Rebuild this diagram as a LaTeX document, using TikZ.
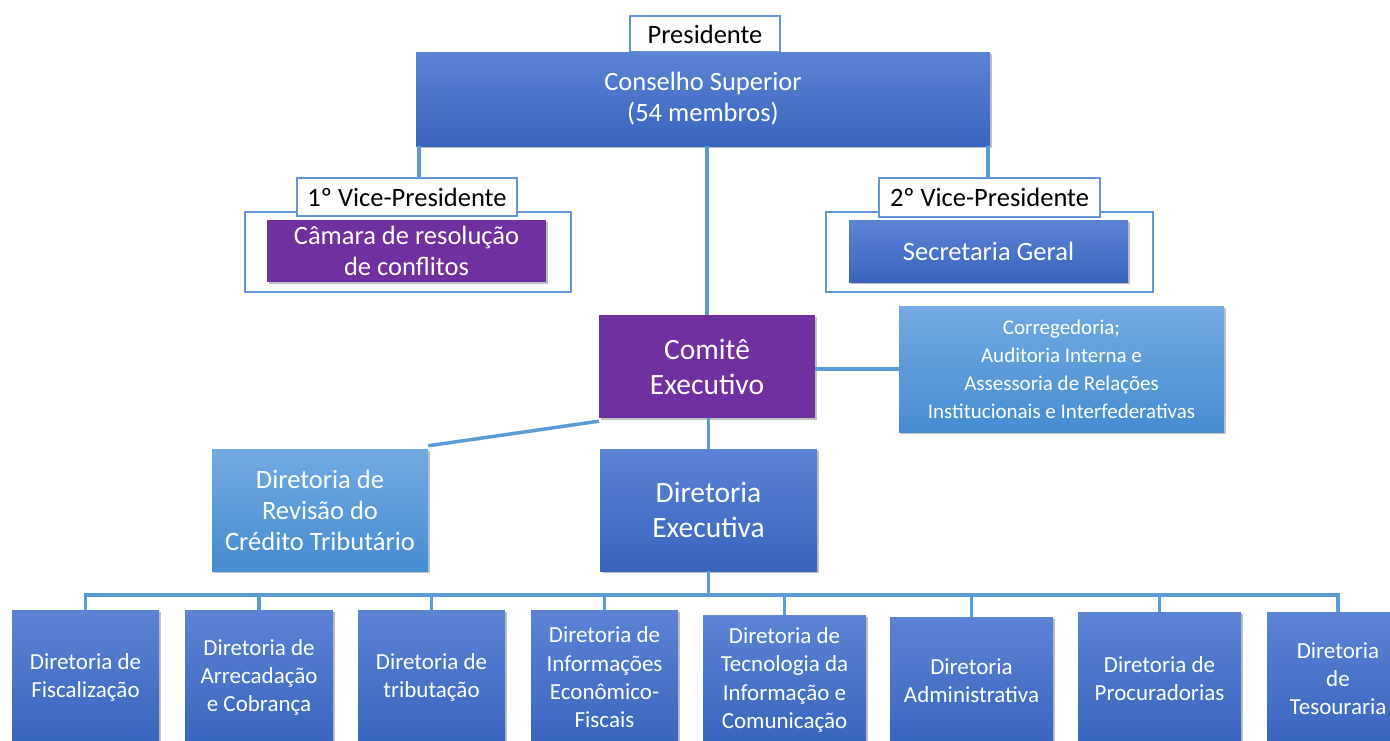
\documentclass[tikz,border=0pt]{standalone}
\usepackage{fontspec}
\setmainfont{Carlito}
\usetikzlibrary{shadows}
\definecolor{lnc}{RGB}{91,155,213}
\definecolor{frc}{RGB}{100,150,215}
\definecolor{btop}{RGB}{92,131,212}
\definecolor{bbot}{RGB}{56,101,190}
\definecolor{ltop}{RGB}{114,170,226}
\definecolor{lbot}{RGB}{70,140,208}
\definecolor{purp}{RGB}{112,48,160}
\tikzset{
  boxbase/.style={inner sep=0pt, align=center, text=white,
    drop shadow={shadow xshift=1.5pt, shadow yshift=-2pt, opacity=0.35, fill=black!70}},
  bluebox/.style={boxbase, top color=btop, bottom color=bbot},
  lbluebox/.style={boxbase, top color=ltop, bottom color=lbot},
  purplebox/.style={boxbase, fill=purp},
  framebox/.style={draw=frc, line width=1.3pt, fill=white, inner sep=0pt},
  labelbox/.style={draw=frc, line width=1.3pt, fill=white, inner sep=0pt, text=black,
    font=\fontsize{26.5}{31}\selectfont},
  fbig/.style={font=\fontsize{26.5}{31}\selectfont},
  fhuge/.style={font=\fontsize{29.5}{35}\selectfont},
  fmid/.style={font=\fontsize{23}{28.3}\selectfont},
  fsmall/.style={font=\fontsize{21}{28}\selectfont},
  conn/.style={draw=lnc, line width=3.5pt}
}
\begin{document}
\begin{tikzpicture}[x=1pt,y=-1pt]
\useasboundingbox (0,0) rectangle (1390,740);
\clip (0,0) rectangle (1390,740);
% top
\node[labelbox, minimum width=150pt, minimum height=36pt] (pres) at (705,34) {Presidente};
\node[bluebox, fbig, minimum width=574pt, minimum height=94pt] (cs) at (703,99) {Conselho Superior\\(54 membros)};
% vice presidents
\node[framebox, minimum width=326pt, minimum height=80pt] (f1) at (408,252) {};
\node[labelbox, minimum width=220pt, minimum height=38pt] (vp1) at (407,197) {1º Vice-Presidente};
\node[purplebox, fbig, minimum width=279pt, minimum height=62pt] (cam) at (406.5,251) {Câmara de resolução\\de conflitos};
\node[framebox, minimum width=327pt, minimum height=80pt] (f2) at (989.5,252) {};
\node[labelbox, minimum width=221pt, minimum height=39pt] (vp2) at (989.5,197.5) {2º Vice-Presidente};
\node[bluebox, fbig, minimum width=279pt, minimum height=62pt] (sec) at (988.5,251) {Secretaria Geral};
% comite
\node[purplebox, fhuge, minimum width=216pt, minimum height=103pt] (ce) at (707,366.5) {Comitê\\Executivo};
\node[lbluebox, fsmall, minimum width=325pt, minimum height=126pt] (cor) at (1061.5,369) {Corregedoria;\\Auditoria Interna e\\Assessoria de Relações\\Institucionais e Interfederativas};
\node[lbluebox, fbig, minimum width=216pt, minimum height=122pt] (rev) at (320,510) {Diretoria de\\Revisão do\\Crédito Tributário};
\node[bluebox, fhuge, minimum width=217pt, minimum height=122pt] (de) at (708.5,510) {Diretoria\\Executiva};
% bottom row
\node[bluebox, fmid, minimum width=147pt, minimum height=135pt] (b1) at (85.5,677.5) {Diretoria de\\Fiscalização};
\node[bluebox, fmid, minimum width=148pt, minimum height=135pt] (b2) at (259,677.5) {Diretoria de\\Arrecadação\\e Cobrança};
\node[bluebox, fmid, minimum width=147pt, minimum height=135pt] (b3) at (431.5,677.5) {Diretoria de\\tributação};
\node[bluebox, fmid, minimum width=147pt, minimum height=135pt] (b4) at (604.5,677.5) {Diretoria de\\Informações\\Econômico-\\Fiscais};
\node[bluebox, fmid, minimum width=163pt, minimum height=130pt] (b5) at (784.5,680) {Diretoria de\\Tecnologia da\\Informação e\\Comunicação};
\node[bluebox, fmid, minimum width=163pt, minimum height=128pt] (b6) at (971.5,681) {Diretoria\\Administrativa};
\node[bluebox, fmid, minimum width=163pt, minimum height=133pt] (b7) at (1159.5,678.5) {Diretoria de\\Procuradorias};
\node[bluebox, fmid, minimum width=142pt, minimum height=133pt] (b8) at (1338,678.5) {Diretoria\\de\\Tesouraria};
% connectors
\coordinate (bus) at (0,595);
\draw[conn] ([xshift=3pt]cs.south west) -- ([xshift=3pt]cs.south west |- vp1.north);
\draw[conn] ([xshift=-2pt]cs.south east) -- ([xshift=-2pt]cs.south east |- vp2.north);
\draw[conn] (ce.north |- cs.south) -- (ce.north);
\draw[conn] (ce.east |- cor.west) -- (cor.west);
\draw[conn] ([yshift=-3pt]ce.south west) -- ([yshift=3pt]rev.north east);
\draw[conn] (de.north |- ce.south) -- (de.north);
\draw[conn] (de.south) -- (de.south |- bus);
\draw[conn, line cap=rect] (b1.north |- bus) -- (b8.north |- bus);
\foreach \b in {b1,b2,b3,b4,b5,b6,b7,b8}{
  \draw[conn] (\b.north |- bus) -- (\b.north);
}
\end{tikzpicture}
\end{document}
